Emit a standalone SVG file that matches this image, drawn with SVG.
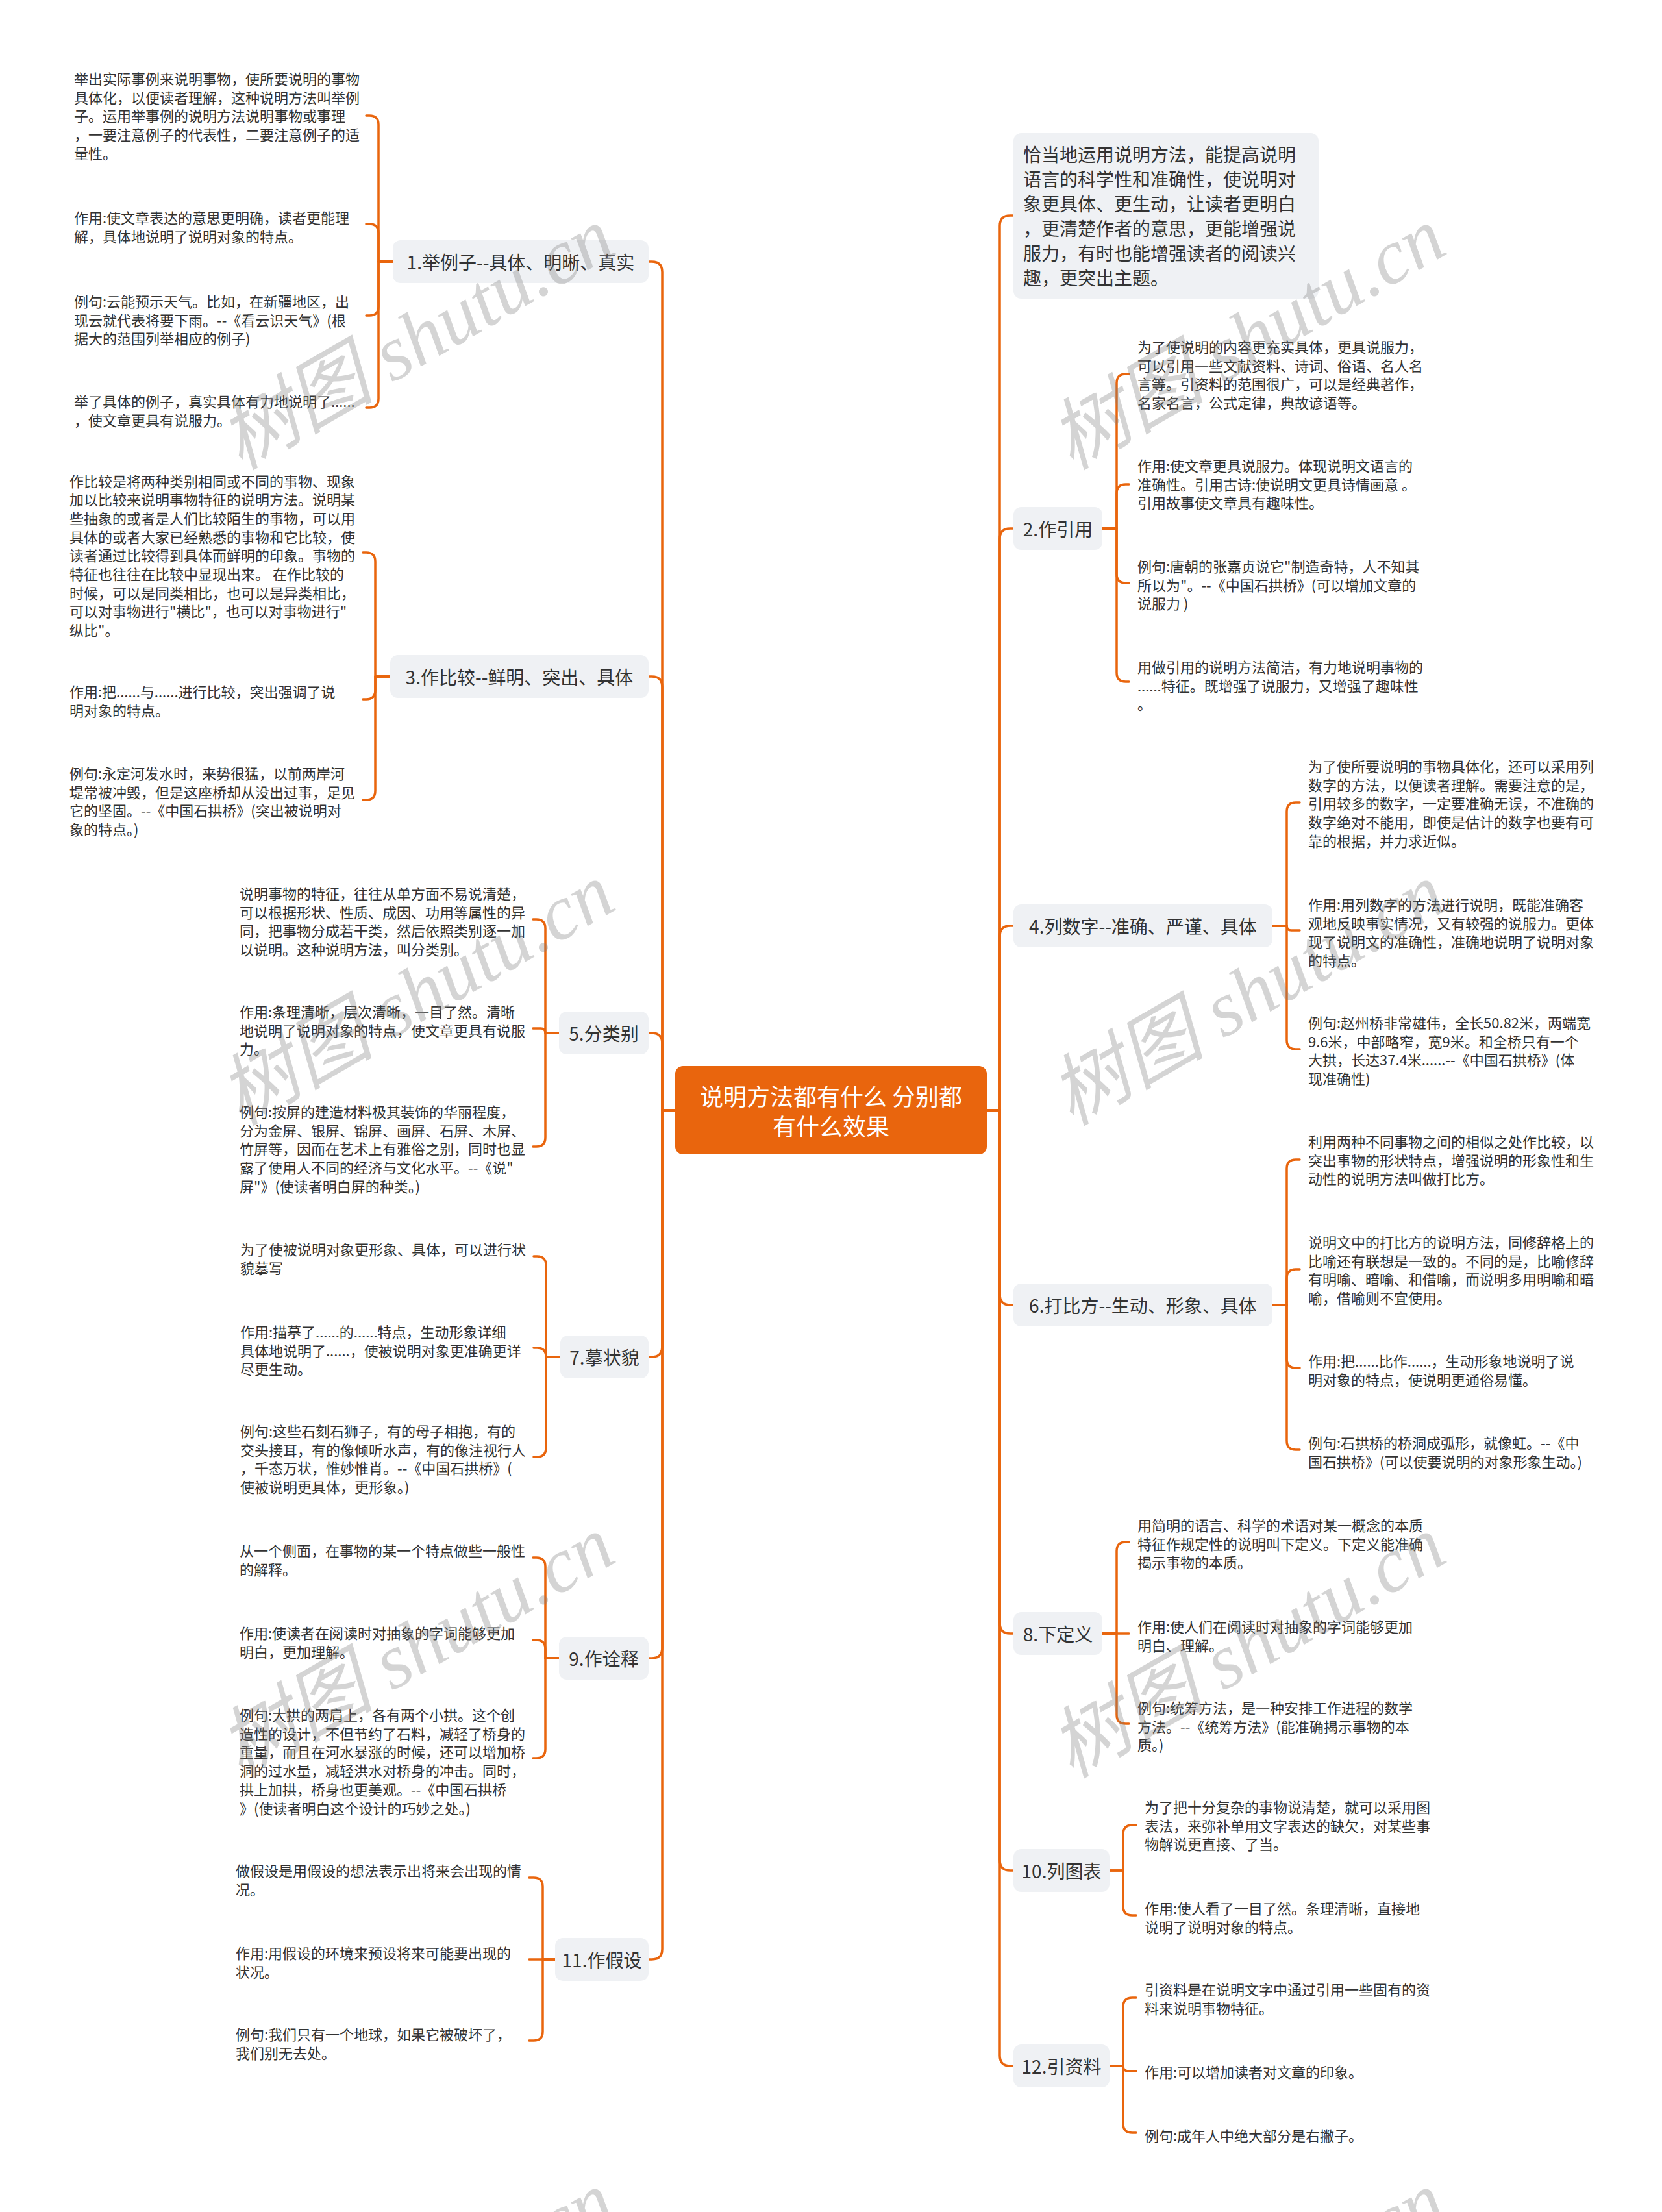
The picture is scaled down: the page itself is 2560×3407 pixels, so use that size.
<svg xmlns="http://www.w3.org/2000/svg" width="2560" height="3407" viewBox="0 0 2560 3407">
<style>
text, tspan { dominant-baseline: central; }
.leaf { font-family: "Noto Sans CJK SC", "Noto Sans", sans-serif; font-size: 22px; fill: #333333; }
.l1box { fill: #EFF1F4; }
.l1txt { font-family: "Noto Sans CJK SC", "Noto Sans", sans-serif; font-size: 28px; fill: #333333; }
.roottxt { font-family: "Noto Sans CJK SC", "Noto Sans", sans-serif; font-size: 36px; fill: #FFFFFF; text-anchor: middle; }
.conn path { fill: none; stroke: #E9650D; stroke-width: 3.5; stroke-linecap: round; stroke-linejoin: round; }
.wm { font-family: "Liberation Serif", "Noto Sans CJK SC", serif; font-style: italic; font-size: 120px; fill: #808080; opacity: 0.33; }
</style>
<rect x="0" y="0" width="2560" height="3407" fill="#FFFFFF"/>

<g id="connectors" class="conn">
  <!-- root to left level-1 -->
  <path d="M1040,1710 H1020 V419 Q1020,403 1004,403 H999"/>
  <path d="M1040,1710 H1020 V1058 Q1020,1042 1004,1042 H999"/>
  <path d="M1040,1710 H1020 V1607 Q1020,1591 1004,1591 H999"/>
  <path d="M1040,1710 H1020 V2074 Q1020,2090 1004,2090 H999"/>
  <path d="M1040,1710 H1020 V2538 Q1020,2554 1004,2554 H999"/>
  <path d="M1040,1710 H1020 V3002 Q1020,3018 1004,3018 H999"/>
  <!-- root to right level-1 -->
  <path d="M1520,1710 H1540 V348 Q1540,332 1556,332 H1561"/>
  <path d="M1520,1710 H1540 V830 Q1540,814 1556,814 H1561"/>
  <path d="M1520,1710 H1540 V1442 Q1540,1426 1556,1426 H1561"/>
  <path d="M1520,1710 H1540 V1994 Q1540,2010 1556,2010 H1561"/>
  <path d="M1520,1710 H1540 V2500 Q1540,2516 1556,2516 H1561"/>
  <path d="M1520,1710 H1540 V2865 Q1540,2881 1556,2881 H1561"/>
  <path d="M1520,1710 H1540 V3166 Q1540,3182 1556,3182 H1561"/>
  <!-- node 1 -->
  <path d="M605,403 H583 V192 Q583,178 569,178 H564"/>
  <path d="M605,403 H583 V359 Q583,345 569,345 H564"/>
  <path d="M605,403 H583 V472 Q583,486 569,486 H564"/>
  <path d="M605,403 H583 V614 Q583,628 569,628 H564"/>
  <!-- node 3 -->
  <path d="M601,1042 H578 V865 Q578,851 564,851 H559"/>
  <path d="M601,1042 H578 V1063 Q578,1077 564,1077 H559"/>
  <path d="M601,1042 H578 V1218 Q578,1232 564,1232 H559"/>
  <!-- node 5 -->
  <path d="M861,1591 H840 V1430 Q840,1416 826,1416 H821"/>
  <path d="M861,1591 H840 Q840,1584 833,1584 H821"/>
  <path d="M861,1591 H840 V1752 Q840,1766 826,1766 H821"/>
  <!-- node 7 -->
  <path d="M863,2090 H841 V1949 Q841,1935 827,1935 H822"/>
  <path d="M863,2090 H841 Q841,2076 827,2076 H822"/>
  <path d="M863,2090 H841 V2230 Q841,2244 827,2244 H822"/>
  <!-- node 9 -->
  <path d="M861,2554 H840 V2413 Q840,2399 826,2399 H821"/>
  <path d="M861,2554 H840 V2540 Q840,2526 826,2526 H821"/>
  <path d="M861,2554 H840 V2694 Q840,2708 826,2708 H821"/>
  <!-- node 11 -->
  <path d="M855,3018 H836 V2906 Q836,2892 822,2892 H815"/>
  <path d="M855,3018 H815"/>
  <path d="M855,3018 H836 V3129 Q836,3143 822,3143 H815"/>
  <!-- node 2 -->
  <path d="M1698,814 H1720 V590 Q1720,576 1734,576 H1739"/>
  <path d="M1698,814 H1720 V760 Q1720,746 1734,746 H1739"/>
  <path d="M1698,814 H1720 V884 Q1720,898 1734,898 H1739"/>
  <path d="M1698,814 H1720 V1036 Q1720,1050 1734,1050 H1739"/>
  <!-- node 4 -->
  <path d="M1960,1426 H1982 V1250 Q1982,1236 1996,1236 H2002"/>
  <path d="M1960,1426 H1982 Q1982,1433 1989,1433 H2002"/>
  <path d="M1960,1426 H1982 V1602 Q1982,1616 1996,1616 H2002"/>
  <!-- node 6 -->
  <path d="M1960,2010 H1982 V1800 Q1982,1786 1996,1786 H2002"/>
  <path d="M1960,2010 H1982 V1969 Q1982,1955 1996,1955 H2002"/>
  <path d="M1960,2010 H1982 V2093 Q1982,2107 1996,2107 H2002"/>
  <path d="M1960,2010 H1982 V2219 Q1982,2233 1996,2233 H2002"/>
  <!-- node 8 -->
  <path d="M1698,2516 H1720 V2389 Q1720,2375 1734,2375 H1739"/>
  <path d="M1698,2516 H1739"/>
  <path d="M1698,2516 H1720 V2641 Q1720,2655 1734,2655 H1739"/>
  <!-- node 10 -->
  <path d="M1709,2881 H1730 V2825 Q1730,2811 1744,2811 H1750"/>
  <path d="M1709,2881 H1730 V2936 Q1730,2950 1744,2950 H1750"/>
  <!-- node 12 -->
  <path d="M1709,3182 H1730 V3091 Q1730,3077 1744,3077 H1750"/>
  <path d="M1709,3182 H1730 Q1730,3190 1738,3190 H1750"/>
  <path d="M1709,3182 H1730 V3271 Q1730,3285 1744,3285 H1750"/>
</g>

<g id="root">
  <rect x="1040" y="1642" width="480" height="136" rx="12" fill="#E9650D"/>
  <text class="roottxt" x="1280" y="1687">说明方法都有什么 分别都</text>
  <text class="roottxt" x="1280" y="1733">有什么效果</text>
</g>

<g id="node-intro">
  <rect class="l1box" x="1561" y="205" width="470" height="255" rx="12"/>
  <text class="l1txt" x="1576" y="237"><tspan x="1576" y="237">恰当地运用说明方法，能提高说明</tspan><tspan x="1576" y="275">语言的科学性和准确性，使说明对</tspan><tspan x="1576" y="313">象更具体、更生动，让读者更明白</tspan><tspan x="1576" y="351">，更清楚作者的意思，更能增强说</tspan><tspan x="1576" y="389">服力，有时也能增强读者的阅读兴</tspan><tspan x="1576" y="427">趣，更突出主题。</tspan></text>
</g>

<g id="node-1">
  <rect class="l1box" x="605" y="370" width="394" height="66" rx="12"/>
  <text class="l1txt" x="802" y="403" text-anchor="middle">1.举例子--具体、明晰、真实</text>
</g>
<g id="node-3">
  <rect class="l1box" x="601" y="1009" width="398" height="66" rx="12"/>
  <text class="l1txt" x="800" y="1042" text-anchor="middle">3.作比较--鲜明、突出、具体</text>
</g>
<g id="node-5">
  <rect class="l1box" x="861" y="1558" width="138" height="66" rx="12"/>
  <text class="l1txt" x="930" y="1591" text-anchor="middle">5.分类别</text>
</g>
<g id="node-7">
  <rect class="l1box" x="863" y="2057" width="136" height="66" rx="12"/>
  <text class="l1txt" x="931" y="2090" text-anchor="middle">7.摹状貌</text>
</g>
<g id="node-9">
  <rect class="l1box" x="861" y="2521" width="138" height="66" rx="12"/>
  <text class="l1txt" x="930" y="2554" text-anchor="middle">9.作诠释</text>
</g>
<g id="node-11">
  <rect class="l1box" x="855" y="2985" width="144" height="66" rx="12"/>
  <text class="l1txt" x="927" y="3018" text-anchor="middle">11.作假设</text>
</g>
<g id="node-2">
  <rect class="l1box" x="1561" y="781" width="137" height="66" rx="12"/>
  <text class="l1txt" x="1629.5" y="814" text-anchor="middle">2.作引用</text>
</g>
<g id="node-4">
  <rect class="l1box" x="1561" y="1393" width="399" height="66" rx="12"/>
  <text class="l1txt" x="1760.5" y="1426" text-anchor="middle">4.列数字--准确、严谨、具体</text>
</g>
<g id="node-6">
  <rect class="l1box" x="1561" y="1977" width="399" height="66" rx="12"/>
  <text class="l1txt" x="1760.5" y="2010" text-anchor="middle">6.打比方--生动、形象、具体</text>
</g>
<g id="node-8">
  <rect class="l1box" x="1561" y="2483" width="137" height="66" rx="12"/>
  <text class="l1txt" x="1629.5" y="2516" text-anchor="middle">8.下定义</text>
</g>
<g id="node-10">
  <rect class="l1box" x="1561" y="2848" width="148" height="66" rx="12"/>
  <text class="l1txt" x="1635" y="2881" text-anchor="middle">10.列图表</text>
</g>
<g id="node-12">
  <rect class="l1box" x="1561" y="3149" width="148" height="66" rx="12"/>
  <text class="l1txt" x="1635" y="3182" text-anchor="middle">12.引资料</text>
</g>

<!-- leaves: left -->
<g id="leaf-1a"><text class="leaf"><tspan x="114" y="120">举出实际事例来说明事物，使所要说明的事物</tspan><tspan x="114" y="148.7">具体化，以便读者理解，这种说明方法叫举例</tspan><tspan x="114" y="177.4">子。运用举事例的说明方法说明事物或事理</tspan><tspan x="114" y="206.1">，一要注意例子的代表性，二要注意例子的适</tspan><tspan x="114" y="234.8">量性。</tspan></text></g>
<g id="leaf-1b"><text class="leaf"><tspan x="114" y="334">作用:使文章表达的意思更明确，读者更能理</tspan><tspan x="114" y="362.7">解，具体地说明了说明对象的特点。</tspan></text></g>
<g id="leaf-1c"><text class="leaf"><tspan x="114" y="463">例句:云能预示天气。比如，在新疆地区，出</tspan><tspan x="114" y="491.7">现云就代表将要下雨。--《看云识天气》(根</tspan><tspan x="114" y="520.4">据大的范围列举相应的例子)</tspan></text></g>
<g id="leaf-1d"><text class="leaf"><tspan x="114" y="617">举了具体的例子，真实具体有力地说明了......</tspan><tspan x="114" y="645.7">，使文章更具有说服力。</tspan></text></g>

<g id="leaf-3a"><text class="leaf"><tspan x="107" y="739.5">作比较是将两种类别相同或不同的事物、现象</tspan><tspan x="107" y="768.2">加以比较来说明事物特征的说明方法。说明某</tspan><tspan x="107" y="796.9">些抽象的或者是人们比较陌生的事物，可以用</tspan><tspan x="107" y="825.6">具体的或者大家已经熟悉的事物和它比较，使</tspan><tspan x="107" y="854.3">读者通过比较得到具体而鲜明的印象。事物的</tspan><tspan x="107" y="883">特征也往往在比较中显现出来。 在作比较的</tspan><tspan x="107" y="911.7">时候，可以是同类相比，也可以是异类相比，</tspan><tspan x="107" y="940.4">可以对事物进行"横比"，也可以对事物进行"</tspan><tspan x="107" y="969.1">纵比"。</tspan></text></g>
<g id="leaf-3b"><text class="leaf"><tspan x="107" y="1064">作用:把......与......进行比较，突出强调了说</tspan><tspan x="107" y="1092.7">明对象的特点。</tspan></text></g>
<g id="leaf-3c"><text class="leaf"><tspan x="107" y="1190">例句:永定河发水时，来势很猛，以前两岸河</tspan><tspan x="107" y="1218.7">堤常被冲毁，但是这座桥却从没出过事，足见</tspan><tspan x="107" y="1247.4">它的坚固。--《中国石拱桥》(突出被说明对</tspan><tspan x="107" y="1276.1">象的特点。)</tspan></text></g>

<g id="leaf-5a"><text class="leaf"><tspan x="369" y="1375">说明事物的特征，往往从单方面不易说清楚，</tspan><tspan x="369" y="1403.7">可以根据形状、性质、成因、功用等属性的异</tspan><tspan x="369" y="1432.4">同，把事物分成若干类，然后依照类别逐一加</tspan><tspan x="369" y="1461.1">以说明。这种说明方法，叫分类别。</tspan></text></g>
<g id="leaf-5b"><text class="leaf"><tspan x="369" y="1557">作用:条理清晰，层次清晰，一目了然。清晰</tspan><tspan x="369" y="1585.7">地说明了说明对象的特点，使文章更具有说服</tspan><tspan x="369" y="1614.4">力。</tspan></text></g>
<g id="leaf-5c"><text class="leaf"><tspan x="369" y="1711">例句:按屏的建造材料极其装饰的华丽程度，</tspan><tspan x="369" y="1739.7">分为金屏、银屏、锦屏、画屏、石屏、木屏、</tspan><tspan x="369" y="1768.4">竹屏等，因而在艺术上有雅俗之别，同时也显</tspan><tspan x="369" y="1797.1">露了使用人不同的经济与文化水平。--《说"</tspan><tspan x="369" y="1825.8">屏"》(使读者明白屏的种类。)</tspan></text></g>

<g id="leaf-7a"><text class="leaf"><tspan x="370" y="1923">为了使被说明对象更形象、具体，可以进行状</tspan><tspan x="370" y="1951.7">貌摹写</tspan></text></g>
<g id="leaf-7b"><text class="leaf"><tspan x="370" y="2050">作用:描摹了......的......特点，生动形象详细</tspan><tspan x="370" y="2078.7">具体地说明了......，使被说明对象更准确更详</tspan><tspan x="370" y="2107.4">尽更生动。</tspan></text></g>
<g id="leaf-7c"><text class="leaf"><tspan x="370" y="2203">例句:这些石刻石狮子，有的母子相抱，有的</tspan><tspan x="370" y="2231.7">交头接耳，有的像倾听水声，有的像注视行人</tspan><tspan x="370" y="2260.4">，千态万状，惟妙惟肖。--《中国石拱桥》(</tspan><tspan x="370" y="2289.1">使被说明更具体，更形象。)</tspan></text></g>

<g id="leaf-9a"><text class="leaf"><tspan x="369" y="2387">从一个侧面，在事物的某一个特点做些一般性</tspan><tspan x="369" y="2415.7">的解释。</tspan></text></g>
<g id="leaf-9b"><text class="leaf"><tspan x="369" y="2514">作用:使读者在阅读时对抽象的字词能够更加</tspan><tspan x="369" y="2542.7">明白，更加理解。</tspan></text></g>
<g id="leaf-9c"><text class="leaf"><tspan x="369" y="2640">例句:大拱的两肩上，各有两个小拱。这个创</tspan><tspan x="369" y="2668.7">造性的设计，不但节约了石料，减轻了桥身的</tspan><tspan x="369" y="2697.4">重量，而且在河水暴涨的时候，还可以增加桥</tspan><tspan x="369" y="2726.1">洞的过水量，减轻洪水对桥身的冲击。同时，</tspan><tspan x="369" y="2754.8">拱上加拱，桥身也更美观。--《中国石拱桥</tspan><tspan x="369" y="2783.5">》(使读者明白这个设计的巧妙之处。)</tspan></text></g>

<g id="leaf-11a"><text class="leaf"><tspan x="363" y="2880">做假设是用假设的想法表示出将来会出现的情</tspan><tspan x="363" y="2908.7">况。</tspan></text></g>
<g id="leaf-11b"><text class="leaf"><tspan x="363" y="3007">作用:用假设的环境来预设将来可能要出现的</tspan><tspan x="363" y="3035.7">状况。</tspan></text></g>
<g id="leaf-11c"><text class="leaf"><tspan x="363" y="3132">例句:我们只有一个地球，如果它被破坏了，</tspan><tspan x="363" y="3160.7">我们别无去处。</tspan></text></g>

<!-- leaves: right -->
<g id="leaf-2a"><text class="leaf"><tspan x="1752" y="533">为了使说明的内容更充实具体，更具说服力，</tspan><tspan x="1752" y="561.7">可以引用一些文献资料、诗词、俗语、名人名</tspan><tspan x="1752" y="590.4">言等。引资料的范围很广，可以是经典著作，</tspan><tspan x="1752" y="619.1">名家名言，公式定律，典故谚语等。</tspan></text></g>
<g id="leaf-2b"><text class="leaf"><tspan x="1752" y="716">作用:使文章更具说服力。体现说明文语言的</tspan><tspan x="1752" y="744.7">准确性。引用古诗:使说明文更具诗情画意 。</tspan><tspan x="1752" y="773.4">引用故事使文章具有趣味性。</tspan></text></g>
<g id="leaf-2c"><text class="leaf"><tspan x="1752" y="871">例句:唐朝的张嘉贞说它"制造奇特，人不知其</tspan><tspan x="1752" y="899.7">所以为"。--《中国石拱桥》(可以增加文章的</tspan><tspan x="1752" y="928.4">说服力 )</tspan></text></g>
<g id="leaf-2d"><text class="leaf"><tspan x="1752" y="1026">用做引用的说明方法简洁，有力地说明事物的</tspan><tspan x="1752" y="1054.7">......特征。既增强了说服力，又增强了趣味性</tspan><tspan x="1752" y="1083.4">。</tspan></text></g>

<g id="leaf-4a"><text class="leaf"><tspan x="2015" y="1179">为了使所要说明的事物具体化，还可以采用列</tspan><tspan x="2015" y="1207.7">数字的方法，以便读者理解。需要注意的是，</tspan><tspan x="2015" y="1236.4">引用较多的数字，一定要准确无误，不准确的</tspan><tspan x="2015" y="1265.1">数字绝对不能用，即使是估计的数字也要有可</tspan><tspan x="2015" y="1293.8">靠的根据，并力求近似。</tspan></text></g>
<g id="leaf-4b"><text class="leaf"><tspan x="2015" y="1392">作用:用列数字的方法进行说明，既能准确客</tspan><tspan x="2015" y="1420.7">观地反映事实情况，又有较强的说服力。更体</tspan><tspan x="2015" y="1449.4">现了说明文的准确性，准确地说明了说明对象</tspan><tspan x="2015" y="1478.1">的特点。</tspan></text></g>
<g id="leaf-4c"><text class="leaf"><tspan x="2015" y="1574">例句:赵州桥非常雄伟，全长50.82米，两端宽</tspan><tspan x="2015" y="1602.7">9.6米，中部略窄，宽9米。和全桥只有一个</tspan><tspan x="2015" y="1631.4">大拱，长达37.4米......--《中国石拱桥》(体</tspan><tspan x="2015" y="1660.1">现准确性)</tspan></text></g>

<g id="leaf-6a"><text class="leaf"><tspan x="2015" y="1757">利用两种不同事物之间的相似之处作比较，以</tspan><tspan x="2015" y="1785.7">突出事物的形状特点，增强说明的形象性和生</tspan><tspan x="2015" y="1814.4">动性的说明方法叫做打比方。</tspan></text></g>
<g id="leaf-6b"><text class="leaf"><tspan x="2015" y="1912">说明文中的打比方的说明方法，同修辞格上的</tspan><tspan x="2015" y="1940.7">比喻还有联想是一致的。不同的是，比喻修辞</tspan><tspan x="2015" y="1969.4">有明喻、暗喻、和借喻，而说明多用明喻和暗</tspan><tspan x="2015" y="1998.1">喻，借喻则不宜使用。</tspan></text></g>
<g id="leaf-6c"><text class="leaf"><tspan x="2015" y="2095">作用:把......比作......，生动形象地说明了说</tspan><tspan x="2015" y="2123.7">明对象的特点，使说明更通俗易懂。</tspan></text></g>
<g id="leaf-6d"><text class="leaf"><tspan x="2015" y="2221">例句:石拱桥的桥洞成弧形，就像虹。--《中</tspan><tspan x="2015" y="2249.7">国石拱桥》(可以使要说明的对象形象生动。)</tspan></text></g>

<g id="leaf-8a"><text class="leaf"><tspan x="1752" y="2348">用简明的语言、科学的术语对某一概念的本质</tspan><tspan x="1752" y="2376.7">特征作规定性的说明叫下定义。下定义能准确</tspan><tspan x="1752" y="2405.4">揭示事物的本质。</tspan></text></g>
<g id="leaf-8b"><text class="leaf"><tspan x="1752" y="2504">作用:使人们在阅读时对抽象的字词能够更加</tspan><tspan x="1752" y="2532.7">明白、理解。</tspan></text></g>
<g id="leaf-8c"><text class="leaf"><tspan x="1752" y="2629">例句:统筹方法，是一种安排工作进程的数学</tspan><tspan x="1752" y="2657.7">方法。--《统筹方法》(能准确揭示事物的本</tspan><tspan x="1752" y="2686.4">质。)</tspan></text></g>

<g id="leaf-10a"><text class="leaf"><tspan x="1763" y="2782">为了把十分复杂的事物说清楚，就可以采用图</tspan><tspan x="1763" y="2810.7">表法，来弥补单用文字表达的缺欠，对某些事</tspan><tspan x="1763" y="2839.4">物解说更直接、了当。</tspan></text></g>
<g id="leaf-10b"><text class="leaf"><tspan x="1763" y="2938">作用:使人看了一目了然。条理清晰，直接地</tspan><tspan x="1763" y="2966.7">说明了说明对象的特点。</tspan></text></g>

<g id="leaf-12a"><text class="leaf"><tspan x="1763" y="3063">引资料是在说明文字中通过引用一些固有的资</tspan><tspan x="1763" y="3091.7">料来说明事物特征。</tspan></text></g>
<g id="leaf-12b"><text class="leaf"><tspan x="1763" y="3190">作用:可以增加读者对文章的印象。</tspan></text></g>
<g id="leaf-12c"><text class="leaf"><tspan x="1763" y="3288">例句:成年人中绝大部分是右撇子。</tspan></text></g>

<g id="watermark">
  <text class="wm" x="350" y="690" transform="rotate(-30 350 690)">树图 shutu.cn</text>
  <text class="wm" x="1630" y="690" transform="rotate(-30 1630 690)">树图 shutu.cn</text>
  <text class="wm" x="350" y="1700" transform="rotate(-30 350 1700)">树图 shutu.cn</text>
  <text class="wm" x="1630" y="1700" transform="rotate(-30 1630 1700)">树图 shutu.cn</text>
  <text class="wm" x="350" y="2705" transform="rotate(-30 350 2705)">树图 shutu.cn</text>
  <text class="wm" x="1630" y="2705" transform="rotate(-30 1630 2705)">树图 shutu.cn</text>
  <text class="wm" x="350" y="3715" transform="rotate(-30 350 3715)">树图 shutu.cn</text>
  <text class="wm" x="1630" y="3715" transform="rotate(-30 1630 3715)">树图 shutu.cn</text>
</g>
</svg>
